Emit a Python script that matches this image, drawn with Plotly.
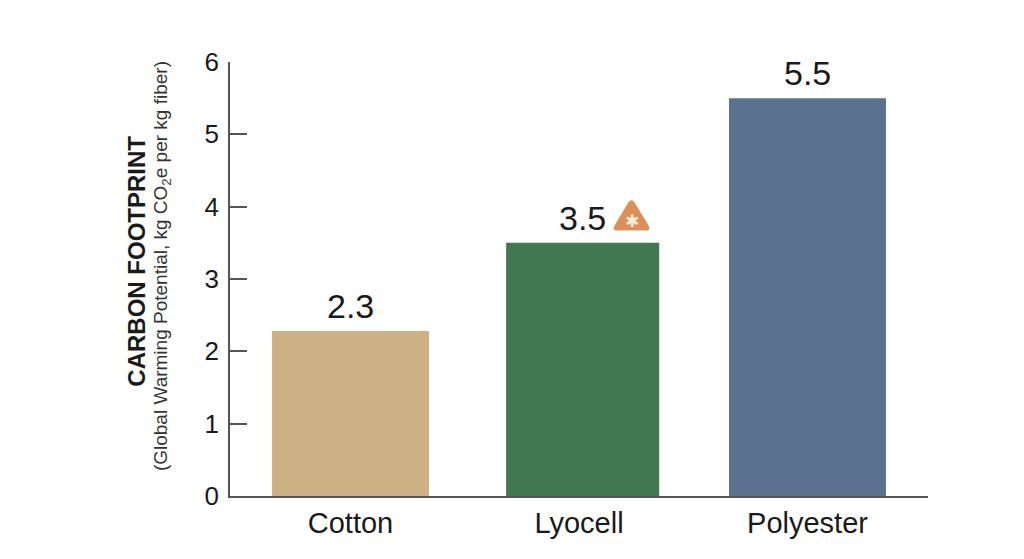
import plotly.graph_objects as go

categories = ["Cotton", "Lyocell", "Polyester"]
values = [2.28, 3.5, 5.5]
value_labels = ["2.3", "3.5", "5.5"]
colors = ["#CDB083", "#42784F", "#5A7192"]
bar_widths = [0.687, 0.670, 0.687]
bar_offsets = [-0.3435, -0.319, -0.3435]
label_xshifts = [0, 3, 0]
y_ticks = [0, 1, 2, 3, 4, 5, 6]
title_main = "CARBON FOOTPRINT"
title_sub = "(Global Warming Potential, kg CO<sub>2</sub>e per kg fiber)"
FONT = "Liberation Sans"
INK = "#1a1a1a"
PAGE_INSET = 8  # the page body shifts the figure by this much
W, H = 1008, 543
L, R, T, B = 222, 88, 54, 51

fig = go.Figure(go.Bar(
    x=categories, y=values, marker=dict(color=colors, line=dict(width=0)),
    width=bar_widths, offset=bar_offsets, hoverinfo="x+y",
))

def px(x):
    return (x - PAGE_INSET - L) / (W - L - R)
def py(y):
    return 1 - (y - PAGE_INSET - T) / (H - T - B)
def P(a, b):
    return f"{px(a):.4f} {py(b):.4f}"

# rounded warning triangle, in reference pixels
tri_path = " ".join([
    "M", P(628.5, 203.5), "Q", P(631.5, 199.5), P(634.5, 203.5),
    "L", P(648.5, 227), "Q", P(651, 232), P(646, 232),
    "L", P(617, 232), "Q", P(612, 232), P(614.5, 227), "Z",
])

value_notes = [
    dict(x=c, y=v, text=t, xref="x", yref="y", showarrow=False, yanchor="middle",
         yshift=25, xshift=s, font=dict(family=FONT, size=34, color=INK))
    for c, v, t, s in zip(categories, values, value_labels, label_xshifts)
]

fig.update_layout(
    width=W, height=H, autosize=False,
    margin=dict(l=L, r=R, t=T, b=B, pad=0),
    paper_bgcolor="white", plot_bgcolor="white",
    showlegend=False, font=dict(family=FONT, color=INK),
    xaxis=dict(type="category", range=[-0.5275, 2.5275], showgrid=False, ticks="",
               showline=True, linecolor="#555555", linewidth=1.5,
               tickfont=dict(family=FONT, size=29, color=INK),
               ticklabelstandoff=0),
    yaxis=dict(range=[0, 6], tickvals=y_ticks, showgrid=False, zeroline=False,
               showline=True, linecolor="#555555", linewidth=1.5,
               ticks="inside", ticklen=17, tickcolor="#555555", tickwidth=1.5,
               tickfont=dict(family=FONT, size=26, color=INK),
               ticklabelstandoff=4),
    shapes=[dict(type="path", xref="paper", yref="paper", path=tri_path,
                 fillcolor="#DC8F57", line=dict(width=0), layer="above")],
    annotations=value_notes + [
        dict(x=px(631.5), y=py(222), xref="paper", yref="paper", text="\u2731", showarrow=False,
             font=dict(family="DejaVu Sans", size=17, color="#FBEBDD"),
             yanchor="middle", xanchor="center"),
        dict(x=px(137), y=py(263.5), xref="paper", yref="paper", text=f"<b>{title_main}</b>",
             textangle=-90, showarrow=False, xanchor="center", yanchor="middle",
             font=dict(family=FONT, size=24, color=INK)),
        dict(x=px(162), y=py(268), xref="paper", yref="paper", text=title_sub,
             textangle=-90, showarrow=False, xanchor="center", yanchor="middle",
             font=dict(family=FONT, size=19, color="#333333")),
    ],
)
fig.write_html("out.html", config=dict(displayModeBar=False))
